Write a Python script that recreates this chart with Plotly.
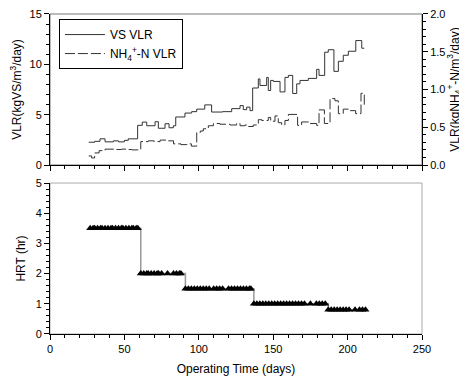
import plotly.graph_objects as go

# ---------------- data ----------------
# VS volumetric loading rate (kgVS/m3/day), step series
vs_days = [26, 30, 33.6, 37, 42.6, 46, 50, 52.6, 58.9, 62, 65, 70.6, 72.8, 77.3, 80, 82.9,
           84.5, 90.7, 95.2, 98.6, 104, 108.6, 116, 122.1, 127.7, 129.9, 132.2, 134.4,
           136.2, 140, 141.1, 145.6, 146.7, 148.3, 150.1, 154.6, 157.9, 160.2, 163.1,
           165.8, 168, 173.6, 179.2, 180.8, 184.6, 187, 190.8, 193.8, 197.1, 200.5,
           205.5, 209.5, 211.2]
vs_vlr = [2.26, 2.35, 2.6, 2.3, 2.4, 2.3, 2.45, 2.6, 3.94, 4.26, 3.9, 4.3, 3.65, 4.1, 3.7, 3.9,
          4.77, 5.16, 5.3, 5.55, 5.97, 5.26, 5.3, 5.6, 5.9, 5.5, 5.75, 5.4,
          7.65, 8.55, 7.9, 8.7, 7.4, 8.4, 8.3, 7.26, 8.7, 8.9, 7.1,
          8.06, 8.4, 8.6, 9.5, 8.9, 11.2, 11.45, 9.3, 10.3, 10.9, 11.3,
          12.36, 11.6, 11.6]

# NH4+-N volumetric loading rate (kgNH4+-N/m3/day), step series
nh4_days = [26, 28, 30, 33, 37, 43, 48, 52, 55, 61, 66, 70, 74, 78, 83, 88, 92, 95,
            98.6, 101, 103, 106.4, 109.8, 114.2, 121, 125.4, 127.7, 131, 133.3, 136.6,
            140, 142.3, 146.7, 148.3, 151.2, 153.4, 155.7, 157.9, 160.2, 166.4, 169.1,
            174.7, 179.2, 180.8, 184.4, 188.2, 191.5, 193.8, 197.1, 200.5, 205.4, 209, 211.2]
nh4_vlr = [0.12, 0.093, 0.16, 0.19, 0.21, 0.205, 0.21, 0.205, 0.20, 0.31, 0.32, 0.31, 0.33,
           0.32, 0.28, 0.27, 0.28, 0.25,
           0.43, 0.45, 0.48, 0.52, 0.55, 0.54, 0.53, 0.55, 0.52, 0.53, 0.51, 0.53,
           0.60, 0.59, 0.63, 0.58, 0.65, 0.56, 0.53, 0.59, 0.67, 0.525, 0.57,
           0.55, 0.525, 0.73, 0.55, 0.88, 0.85, 0.68, 0.74, 0.72, 0.68, 0.95, 0.76]

# Hydraulic retention time (hr)
hrt_days = [27, 29, 30, 32, 34, 35, 37, 39, 41, 42, 44, 46, 48, 49, 51, 53, 55, 56, 58, 59,
            61, 63, 65, 66, 68, 70, 72, 73, 75, 79, 83, 85, 87, 88,
            91, 93, 95, 97, 99, 101, 103, 105, 107, 110, 112, 114, 116,
            120, 122, 124, 126, 128, 130, 132, 134, 135,
            137, 139, 141, 143, 145, 147, 149, 151, 153, 155, 157, 159, 161, 163, 165,
            167, 169, 171, 175, 179, 181, 183, 185,
            187, 189, 191, 193, 195, 197, 199, 201, 205, 208, 210, 212]
hrt_values = [3.5, 3.5, 3.5, 3.5, 3.5, 3.5, 3.5, 3.5, 3.5, 3.5, 3.5, 3.5, 3.5, 3.5, 3.5, 3.5, 3.5, 3.5, 3.5, 3.5,
              2.0, 2.0, 2.0, 2.0, 2.0, 2.0, 2.0, 2.0, 2.0, 2.0, 2.0, 2.0, 2.0, 2.0,
              1.5, 1.5, 1.5, 1.5, 1.5, 1.5, 1.5, 1.5, 1.5, 1.5, 1.5, 1.5, 1.5,
              1.5, 1.5, 1.5, 1.5, 1.5, 1.5, 1.5, 1.5, 1.5,
              1.0, 1.0, 1.0, 1.0, 1.0, 1.0, 1.0, 1.0, 1.0, 1.0, 1.0, 1.0, 1.0, 1.0, 1.0,
              1.0, 1.0, 1.0, 1.0, 1.0, 1.0, 1.0, 1.0,
              0.8, 0.8, 0.8, 0.8, 0.8, 0.8, 0.8, 0.8, 0.8, 0.8, 0.8, 0.8]

x_ticks = [0, 50, 100, 150, 200, 250]
vs_ticks = [0, 5, 10, 15]
nh4_ticks = [0.0, 0.5, 1.0, 1.5, 2.0]
hrt_ticks = [0, 1, 2, 3, 4, 5]

# ---------------- figure ----------------
FONT = "Liberation Sans, Arial, sans-serif"
fig = go.Figure()

fig.add_trace(go.Scatter(
    x=vs_days, y=vs_vlr, mode="lines", name="VS VLR",
    line=dict(color="#333333", width=1, shape="hv"),
    xaxis="x", yaxis="y"))
fig.add_trace(go.Scatter(
    x=nh4_days, y=nh4_vlr, mode="lines",
    name="NH<sub>4</sub><sup>+</sup>-N VLR",
    line=dict(color="#333333", width=1, shape="hv", dash="10px,3px"),
    xaxis="x", yaxis="y2"))
fig.add_trace(go.Scatter(
    x=hrt_days, y=hrt_values, mode="lines+markers", showlegend=False,
    line=dict(color="#9a9a9a", width=1.5, shape="hv"),
    marker=dict(symbol="triangle-up", size=7, color="black"),
    xaxis="x2", yaxis="y3"))

axis_common = dict(showgrid=False, zeroline=False, showline=True, linecolor="black",
                   linewidth=1, ticks="outside", ticklen=5, tickcolor="black",
                   automargin=False, ticklabeloverflow="allow",
                   tickfont=dict(family=FONT, size=11, color="black"))

top_dom = [0.5216, 0.9877]
bot_dom = [0.0, 0.466]

# page body has an 8px margin: figure is sized/offset so the plot lands where the reference has it
fig.update_layout(
    width=459, height=368,
    margin=dict(l=42, r=45, t=2, b=42),
    paper_bgcolor="white", plot_bgcolor="white",
    font=dict(family=FONT, size=12, color="black"),
    xaxis=dict(domain=[0, 1], anchor="y", range=[0, 250], tickvals=x_ticks,
               showticklabels=False,
               minor=dict(dtick=10, ticks="outside", ticklen=3, tickcolor="black"),
               **axis_common),
    yaxis=dict(domain=top_dom, anchor="x", range=[0, 15], tickvals=vs_ticks,
               minor=dict(dtick=1, ticks="outside", ticklen=3, tickcolor="black"),
               title=dict(text="VLR(kgVS/m<sup>3</sup>/day)", standoff=7,
                          font=dict(family=FONT, size=12)),
               **axis_common),
    yaxis2=dict(overlaying="y", side="right", anchor="x", range=[0, 2],
                tickvals=nh4_ticks, tickformat=".1f",
                minor=dict(dtick=0.1, ticks="outside", ticklen=3, tickcolor="black"),
                title=dict(text="VLR(kgNH<sub>4</sub><sup>+</sup>-N/m<sup>3</sup>/day)",
                           standoff=2, font=dict(family=FONT, size=12)),
                **axis_common),
    xaxis2=dict(domain=[0, 1], anchor="y3", range=[0, 250], tickvals=x_ticks,
                minor=dict(dtick=10, ticks="outside", ticklen=3, tickcolor="black"),
                title=dict(text="Operating Time (days)", standoff=12,
                           font=dict(family=FONT, size=12)),
                **axis_common),
    yaxis3=dict(domain=bot_dom, anchor="x2", range=[0, 5], tickvals=hrt_ticks,
                minor=dict(dtick=0.2, ticks="outside", ticklen=3, tickcolor="black"),
                title=dict(text="HRT (hr)", standoff=7, font=dict(family=FONT, size=12)),
                **axis_common),
    legend=dict(x=0.024, y=0.972, xanchor="left", yanchor="top",
                bordercolor="black", borderwidth=1, bgcolor="white",
                font=dict(family=FONT, size=12), tracegroupgap=0,
                itemwidth=40),
    shapes=[
        dict(type="rect", xref="x domain", yref="y domain", x0=0, x1=1, y0=0, y1=1,
             line=dict(color="#777777", width=1), layer="below"),
        dict(type="rect", xref="x2 domain", yref="y3 domain", x0=0, x1=1, y0=0, y1=1,
             line=dict(color="#aaaaaa", width=1), layer="below"),
    ],
)

fig.write_html("out.html")
